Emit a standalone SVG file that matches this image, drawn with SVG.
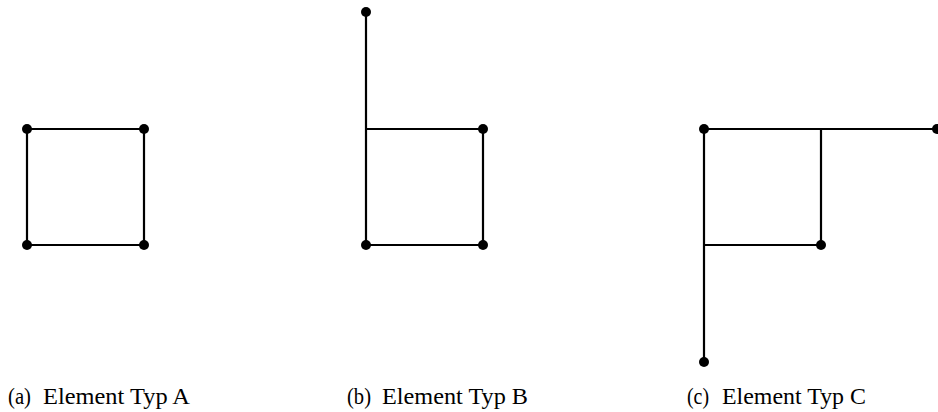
<svg xmlns="http://www.w3.org/2000/svg" width="938" height="412" viewBox="0 0 938 412">
<style>
.e{stroke:#000;stroke-width:2.2;fill:none;stroke-linecap:butt}
.d{fill:#000}
text{font-family:'Liberation Serif','Times New Roman',serif;font-size:24px;fill:#000}
</style>
<rect width="938" height="412" fill="#fff"/>
<g id="connectors">
<path class="e" d="M27 129H144V245H27Z"/>
<path class="e" d="M366 12V245H483V129H366"/>
<path class="e" d="M704 362V129H937M821 129V245H704"/>
</g>
<g id="typA">
<circle class="d" cx="27" cy="129" r="5"/>
<circle class="d" cx="144" cy="129" r="5"/>
<circle class="d" cx="27" cy="245" r="5"/>
<circle class="d" cx="144" cy="245" r="5"/>
<text y="403.5"><tspan x="8" textLength="23" lengthAdjust="spacingAndGlyphs">(a)</tspan><tspan x="43" textLength="147" lengthAdjust="spacingAndGlyphs">Element Typ A</tspan></text>
</g>
<g id="typB">
<circle class="d" cx="366" cy="12" r="5"/>
<circle class="d" cx="483" cy="129" r="5"/>
<circle class="d" cx="366" cy="245" r="5"/>
<circle class="d" cx="483" cy="245" r="5"/>
<text y="403.5"><tspan x="347" textLength="24" lengthAdjust="spacingAndGlyphs">(b)</tspan><tspan x="382" textLength="146" lengthAdjust="spacingAndGlyphs">Element Typ B</tspan></text>
</g>
<g id="typC">
<circle class="d" cx="704" cy="129" r="5"/>
<circle class="d" cx="937" cy="129" r="5"/>
<circle class="d" cx="821" cy="245" r="5"/>
<circle class="d" cx="704" cy="362" r="5"/>
<text y="403.5"><tspan x="687" textLength="22" lengthAdjust="spacingAndGlyphs">(c)</tspan><tspan x="722" textLength="144" lengthAdjust="spacingAndGlyphs">Element Typ C</tspan></text>
</g>
</svg>
